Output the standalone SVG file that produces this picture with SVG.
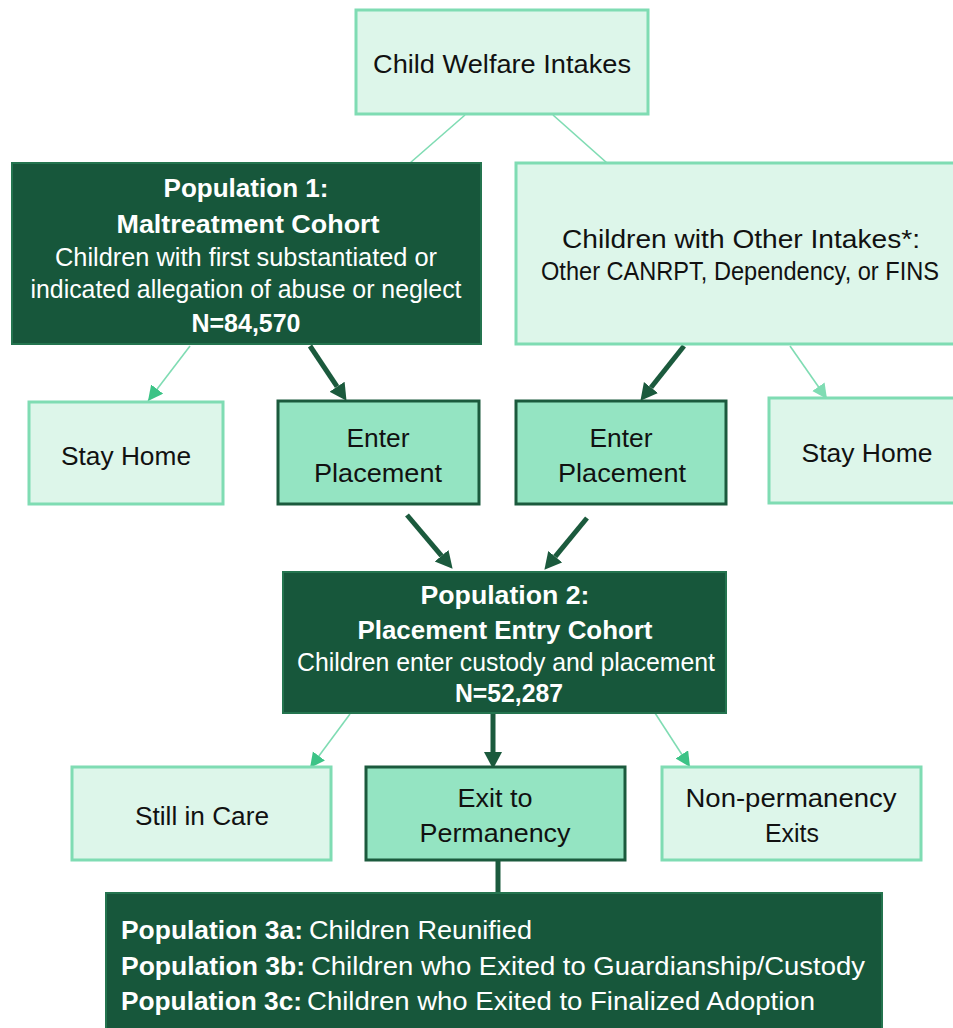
<svg xmlns="http://www.w3.org/2000/svg" width="953" height="1028" viewBox="0 0 953 1028">
<style>
text{font-family:"Liberation Sans",Arial,sans-serif;font-size:26px}
.c{text-anchor:middle}
.b{font-weight:bold}
.w{fill:#ffffff}
.k{fill:#111111}
.light{fill:#ddf6ea;stroke:#7fdcb3;stroke-width:3}
.mid{fill:#94e4c2;stroke:#1b5a3d;stroke-width:3}
.dark{fill:#17573b;stroke:#24744f;stroke-width:2}
.ln{stroke:#7fdcb3;stroke-width:1.6;fill:none}
.dk{stroke:#1b5a3d;stroke-width:5;fill:none}
</style>
<defs>
<marker id="ha" markerUnits="userSpaceOnUse" markerWidth="18" markerHeight="18" refX="15" refY="7.5" orient="auto"><path d="M0,0 L15,7.5 L0,15 Z" fill="#3cc386"/></marker>
<marker id="hb" markerUnits="userSpaceOnUse" markerWidth="18" markerHeight="18" refX="15" refY="7.5" orient="auto"><path d="M0,0 L15,7.5 L0,15 Z" fill="#7fdcb3"/></marker>
<marker id="hd" markerUnits="userSpaceOnUse" markerWidth="18" markerHeight="20" refX="0" refY="9" orient="auto"><path d="M0,0 L17,9 L0,18 Z" fill="#1b5a3d"/></marker>
</defs>
<g id="connectors">
<line class="ln" x1="465" y1="115" x2="410" y2="163"/>
<line class="ln" x1="553" y1="115" x2="607" y2="163"/>
<line class="ln" x1="190" y1="346" x2="148" y2="401" marker-end="url(#ha)"/>
<line class="ln" x1="790" y1="346" x2="827" y2="399" marker-end="url(#hb)"/>
<line class="dk" x1="310" y1="346" x2="337.1" y2="386.7" marker-end="url(#hd)"/>
<line class="dk" x1="684" y1="346" x2="651" y2="387.5" marker-end="url(#hd)"/>
<line class="dk" x1="407" y1="515" x2="441.6" y2="555.8" marker-end="url(#hd)"/>
<line class="dk" x1="587" y1="518" x2="555.2" y2="556.6" marker-end="url(#hd)"/>
<line class="ln" x1="350" y1="714" x2="310" y2="768" marker-end="url(#ha)"/>
<line class="ln" x1="655" y1="713" x2="690" y2="767" marker-end="url(#ha)"/>
<line class="dk" x1="493" y1="713" x2="493" y2="752" marker-end="url(#hd)"/>
<line class="dk" x1="498" y1="861" x2="498" y2="894"/>
</g>
<g id="intakes">
<rect class="light" x="356" y="10" width="292" height="104"/>
<text class="c k" x="502" y="73" textLength="258" lengthAdjust="spacingAndGlyphs">Child Welfare Intakes</text>
</g>
<g id="pop1">
<rect class="dark" x="12" y="163" width="469" height="181"/>
<text class="c w b" x="246" y="197" textLength="165" lengthAdjust="spacingAndGlyphs">Population 1:</text>
<text class="c w b" x="248" y="233" textLength="263" lengthAdjust="spacingAndGlyphs">Maltreatment Cohort</text>
<text class="c w" x="246" y="266" font-size="24" textLength="382" lengthAdjust="spacingAndGlyphs">Children with first substantiated or</text>
<text class="c w" x="246" y="298" font-size="24" textLength="431" lengthAdjust="spacingAndGlyphs">indicated allegation of abuse or neglect</text>
<text class="c w b" x="246" y="332" font-size="24" textLength="109" lengthAdjust="spacingAndGlyphs">N=84,570</text>
</g>
<g id="other">
<rect class="light" x="516" y="163" width="445" height="181"/>
<text class="c k" x="741" y="248" textLength="358" lengthAdjust="spacingAndGlyphs">Children with Other Intakes*:</text>
<text class="c k" x="740" y="280" font-size="22" textLength="398" lengthAdjust="spacingAndGlyphs">Other CANRPT, Dependency, or FINS</text>
</g>
<g id="stayhome1">
<rect class="light" x="29" y="402" width="194" height="102"/>
<text class="c k" x="126" y="465" textLength="130" lengthAdjust="spacingAndGlyphs">Stay Home</text>
</g>
<g id="enter1">
<rect class="mid" x="278" y="401" width="201" height="103"/>
<text class="c k" x="378" y="447" textLength="63" lengthAdjust="spacingAndGlyphs">Enter</text>
<text class="c k" x="378" y="482" textLength="128" lengthAdjust="spacingAndGlyphs">Placement</text>
</g>
<g id="enter2">
<rect class="mid" x="516" y="401" width="210" height="103"/>
<text class="c k" x="621" y="447" textLength="63" lengthAdjust="spacingAndGlyphs">Enter</text>
<text class="c k" x="622" y="482" textLength="128" lengthAdjust="spacingAndGlyphs">Placement</text>
</g>
<g id="stayhome2">
<rect class="light" x="769" y="398" width="192" height="105"/>
<text class="c k" x="867" y="462" textLength="131" lengthAdjust="spacingAndGlyphs">Stay Home</text>
</g>
<g id="pop2">
<rect class="dark" x="283" y="572" width="443" height="141"/>
<text class="c w b" x="505" y="604" textLength="169" lengthAdjust="spacingAndGlyphs">Population 2:</text>
<text class="c w b" x="505" y="639" textLength="295" lengthAdjust="spacingAndGlyphs">Placement Entry Cohort</text>
<text class="c w" x="506" y="671" font-size="24" textLength="418" lengthAdjust="spacingAndGlyphs">Children enter custody and placement</text>
<text class="c w b" x="509" y="702" font-size="24" textLength="108" lengthAdjust="spacingAndGlyphs">N=52,287</text>
</g>
<g id="stillincare">
<rect class="light" x="72" y="767" width="259" height="93"/>
<text class="c k" x="202" y="825" textLength="134" lengthAdjust="spacingAndGlyphs">Still in Care</text>
</g>
<g id="exitperm">
<rect class="mid" x="366" y="767" width="259" height="93"/>
<text class="c k" x="495" y="807" textLength="75" lengthAdjust="spacingAndGlyphs">Exit to</text>
<text class="c k" x="495" y="842" textLength="151" lengthAdjust="spacingAndGlyphs">Permanency</text>
</g>
<g id="nonperm">
<rect class="light" x="662" y="767" width="259" height="93"/>
<text class="c k" x="791" y="807" textLength="211" lengthAdjust="spacingAndGlyphs">Non-permanency</text>
<text class="c k" x="792" y="842" textLength="54" lengthAdjust="spacingAndGlyphs">Exits</text>
</g>
<g id="pop3">
<rect class="dark" x="106" y="893" width="776" height="140"/>
<text class="w b" x="121" y="939" textLength="182" lengthAdjust="spacingAndGlyphs">Population 3a:</text>
<text class="w" x="309" y="939" textLength="223" lengthAdjust="spacingAndGlyphs">Children Reunified</text>
<text class="w b" x="121" y="975" textLength="184" lengthAdjust="spacingAndGlyphs">Population 3b:</text>
<text class="w" x="311" y="975" textLength="554" lengthAdjust="spacingAndGlyphs">Children who Exited to Guardianship/Custody</text>
<text class="w b" x="121" y="1010" textLength="181" lengthAdjust="spacingAndGlyphs">Population 3c:</text>
<text class="w" x="307" y="1010" textLength="508" lengthAdjust="spacingAndGlyphs">Children who Exited to Finalized Adoption</text>
</g>
</svg>
